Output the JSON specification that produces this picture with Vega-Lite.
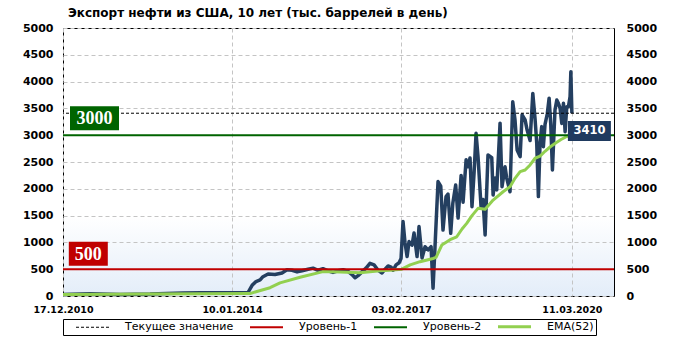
{
  "$schema": "https://vega.github.io/schema/vega-lite/v6.json",
  "width": 551,
  "height": 268,
  "autosize": {"type": "none"},
  "padding": {"left": 63, "top": 28, "right": 67, "bottom": 45},
  "background": "white",
  "title": {
    "text": "Экспорт нефти из США, 10 лет (тыс. баррелей в день)",
    "anchor": "start",
    "frame": "group",
    "font": "DejaVu Sans",
    "fontSize": 12,
    "fontWeight": "bold",
    "color": "black",
    "offset": 2,
    "dx": 5
  },
  "config": {
    "view": {
      "stroke": "black",
      "strokeWidth": 1,
      "fill": {
        "gradient": "linear",
        "x1": 0, "y1": 0, "x2": 0, "y2": 1,
        "stops": [
          {"offset": 0, "color": "#ffffff"},
          {"offset": 0.7, "color": "#ffffff"},
          {"offset": 1, "color": "#e3edf9"}
        ]
      }
    },
    "axis": {
      "labelFont": "DejaVu Sans",
      "labelFontWeight": "bold",
      "labelColor": "black",
      "ticks": false,
      "domain": false,
      "gridColor": "#c4c4c4",
      "gridDash": [4, 3],
      "gridWidth": 1,
      "title": null
    },
    "legend": {
      "orient": "none",
      "legendX": 0,
      "legendY": 291,
      "direction": "horizontal",
      "strokeColor": "black",
      "padding": 2,
      "symbolType": "stroke",
      "symbolSize": 1089,
      "symbolStrokeWidth": 2,
      "symbolOffset": 22,
      "labelFont": "DejaVu Sans",
      "labelFontSize": 11,
      "labelColor": "black",
      "labelOffset": 27,
      "columnPadding": 5,
      "title": null
    }
  },
  "datasets": {
    "export": [
      {"date": "2010-12-17", "value": 30},
      {"date": "2011-06-14", "value": 40},
      {"date": "2011-12-30", "value": 30},
      {"date": "2012-07-16", "value": 35},
      {"date": "2013-02-19", "value": 55},
      {"date": "2013-06-12", "value": 60},
      {"date": "2013-12-28", "value": 60},
      {"date": "2014-04-26", "value": 65},
      {"date": "2014-05-23", "value": 200},
      {"date": "2014-06-18", "value": 270},
      {"date": "2014-07-15", "value": 300},
      {"date": "2014-08-03", "value": 360},
      {"date": "2014-09-06", "value": 410},
      {"date": "2014-10-22", "value": 400},
      {"date": "2014-12-07", "value": 430},
      {"date": "2015-01-09", "value": 490},
      {"date": "2015-02-12", "value": 480},
      {"date": "2015-03-17", "value": 450},
      {"date": "2015-04-19", "value": 470},
      {"date": "2015-05-29", "value": 500},
      {"date": "2015-07-01", "value": 520},
      {"date": "2015-08-03", "value": 480},
      {"date": "2015-09-05", "value": 510},
      {"date": "2015-10-08", "value": 470},
      {"date": "2015-11-10", "value": 440},
      {"date": "2015-12-13", "value": 470},
      {"date": "2016-01-16", "value": 490},
      {"date": "2016-02-18", "value": 460},
      {"date": "2016-03-15", "value": 400},
      {"date": "2016-04-04", "value": 340},
      {"date": "2016-04-24", "value": 380},
      {"date": "2016-05-20", "value": 450},
      {"date": "2016-06-16", "value": 520},
      {"date": "2016-07-12", "value": 610},
      {"date": "2016-08-08", "value": 580},
      {"date": "2016-09-04", "value": 480},
      {"date": "2016-09-30", "value": 430},
      {"date": "2016-10-20", "value": 500},
      {"date": "2016-11-09", "value": 560},
      {"date": "2016-11-29", "value": 540},
      {"date": "2016-12-12", "value": 480},
      {"date": "2017-01-01", "value": 580},
      {"date": "2017-01-21", "value": 620},
      {"date": "2017-02-03", "value": 700},
      {"date": "2017-02-16", "value": 1390},
      {"date": "2017-03-01", "value": 1000},
      {"date": "2017-03-15", "value": 735},
      {"date": "2017-03-28", "value": 1015},
      {"date": "2017-04-17", "value": 950},
      {"date": "2017-04-30", "value": 1175},
      {"date": "2017-05-20", "value": 735},
      {"date": "2017-06-02", "value": 1295},
      {"date": "2017-06-22", "value": 710},
      {"date": "2017-07-12", "value": 920},
      {"date": "2017-08-01", "value": 860},
      {"date": "2017-08-21", "value": 920},
      {"date": "2017-09-03", "value": 145},
      {"date": "2017-09-16", "value": 920},
      {"date": "2017-10-06", "value": 2135},
      {"date": "2017-10-24", "value": 2050},
      {"date": "2017-11-08", "value": 1230},
      {"date": "2017-11-28", "value": 1855},
      {"date": "2017-12-11", "value": 1900},
      {"date": "2017-12-29", "value": 1170},
      {"date": "2018-01-12", "value": 1730},
      {"date": "2018-01-31", "value": 2070},
      {"date": "2018-02-16", "value": 1455},
      {"date": "2018-03-08", "value": 2250},
      {"date": "2018-03-21", "value": 1750},
      {"date": "2018-04-10", "value": 2540},
      {"date": "2018-04-23", "value": 2410},
      {"date": "2018-05-06", "value": 2575},
      {"date": "2018-05-19", "value": 1665},
      {"date": "2018-06-02", "value": 2300},
      {"date": "2018-06-15", "value": 3035},
      {"date": "2018-06-28", "value": 2600},
      {"date": "2018-07-18", "value": 1665},
      {"date": "2018-07-31", "value": 1800},
      {"date": "2018-08-14", "value": 1140},
      {"date": "2018-09-02", "value": 2630},
      {"date": "2018-09-27", "value": 2580},
      {"date": "2018-10-06", "value": 1885},
      {"date": "2018-10-19", "value": 2200},
      {"date": "2018-10-30", "value": 1980},
      {"date": "2018-11-21", "value": 3225},
      {"date": "2018-12-04", "value": 2040},
      {"date": "2018-12-24", "value": 2410},
      {"date": "2019-01-04", "value": 2200},
      {"date": "2019-01-26", "value": 1945},
      {"date": "2019-02-13", "value": 3625},
      {"date": "2019-02-28", "value": 3285},
      {"date": "2019-03-14", "value": 2725},
      {"date": "2019-04-03", "value": 2600},
      {"date": "2019-04-16", "value": 3380},
      {"date": "2019-05-06", "value": 3285},
      {"date": "2019-05-19", "value": 3100},
      {"date": "2019-06-08", "value": 2900},
      {"date": "2019-06-26", "value": 3780},
      {"date": "2019-07-11", "value": 3300},
      {"date": "2019-07-22", "value": 2850},
      {"date": "2019-08-02", "value": 1855},
      {"date": "2019-08-13", "value": 2850},
      {"date": "2019-08-24", "value": 3160},
      {"date": "2019-09-04", "value": 2785},
      {"date": "2019-09-15", "value": 3200},
      {"date": "2019-09-30", "value": 3400},
      {"date": "2019-10-12", "value": 3690},
      {"date": "2019-10-23", "value": 3200},
      {"date": "2019-11-03", "value": 2350},
      {"date": "2019-11-20", "value": 3470},
      {"date": "2019-12-02", "value": 3655},
      {"date": "2019-12-12", "value": 3600},
      {"date": "2019-12-24", "value": 3500},
      {"date": "2020-01-04", "value": 3220},
      {"date": "2020-01-15", "value": 3595},
      {"date": "2020-01-26", "value": 3065},
      {"date": "2020-02-06", "value": 3530},
      {"date": "2020-02-17", "value": 3530},
      {"date": "2020-02-28", "value": 3720},
      {"date": "2020-03-04", "value": 4185},
      {"date": "2020-03-11", "value": 3410}
    ],
    "ema": [
      {"date": "2010-12-17", "value": 30},
      {"date": "2012-07-16", "value": 35},
      {"date": "2013-06-12", "value": 40},
      {"date": "2014-05-09", "value": 45},
      {"date": "2014-06-18", "value": 80},
      {"date": "2014-09-19", "value": 155},
      {"date": "2014-11-24", "value": 245},
      {"date": "2015-04-06", "value": 350},
      {"date": "2015-09-05", "value": 455},
      {"date": "2015-12-27", "value": 450},
      {"date": "2016-05-07", "value": 435},
      {"date": "2016-09-17", "value": 470},
      {"date": "2016-11-22", "value": 480},
      {"date": "2017-02-08", "value": 500},
      {"date": "2017-04-04", "value": 580},
      {"date": "2017-06-09", "value": 640},
      {"date": "2017-09-03", "value": 700},
      {"date": "2017-09-23", "value": 720},
      {"date": "2017-10-31", "value": 950},
      {"date": "2017-12-25", "value": 1050},
      {"date": "2018-02-07", "value": 1105},
      {"date": "2018-03-14", "value": 1250},
      {"date": "2018-04-14", "value": 1355},
      {"date": "2018-05-19", "value": 1500},
      {"date": "2018-06-28", "value": 1635},
      {"date": "2018-08-14", "value": 1620},
      {"date": "2018-10-06", "value": 1790},
      {"date": "2018-12-11", "value": 1945},
      {"date": "2019-01-26", "value": 2040},
      {"date": "2019-02-28", "value": 2195},
      {"date": "2019-04-03", "value": 2320},
      {"date": "2019-05-06", "value": 2350},
      {"date": "2019-06-08", "value": 2445},
      {"date": "2019-07-11", "value": 2570},
      {"date": "2019-08-13", "value": 2610},
      {"date": "2019-09-15", "value": 2700},
      {"date": "2019-10-18", "value": 2780},
      {"date": "2019-11-27", "value": 2860},
      {"date": "2019-12-30", "value": 2920},
      {"date": "2020-02-06", "value": 2975},
      {"date": "2020-03-11", "value": 3010}
    ],
    "levels": [
      {"name": "Текущее значение", "value": 3410},
      {"name": "Уровень-1", "value": 500},
      {"name": "Уровень-2", "value": 3000}
    ]
  },
  "resolve": {"axis": {"y": "independent"}},
  "layer": [
    {
      "data": {"name": "export"},
      "mark": {"type": "line", "color": "#243f60", "strokeWidth": 3.5, "strokeJoin": "round"},
      "encoding": {
        "x": {
          "field": "date",
          "type": "temporal",
          "scale": {"domain": [{"year": 2010, "month": 12, "date": 17}, {"year": 2020, "month": 12, "date": 15}]},
          "axis": {
            "values": [
              {"year": 2010, "month": 12, "date": 17},
              {"year": 2014, "month": 1, "date": 10},
              {"year": 2017, "month": 2, "date": 3},
              {"year": 2020, "month": 3, "date": 11}
            ],
            "format": "%d.%m.%Y",
            "labelFontSize": 9.5,
            "labelPadding": 8,
            "labelFlush": false,
            "labelOverlap": false,
            "grid": true
          }
        },
        "y": {
          "field": "value",
          "type": "quantitative",
          "scale": {"domain": [0, 5000], "nice": false},
          "axis": {
            "orient": "left",
            "values": [0, 500, 1000, 1500, 2000, 2500, 3000, 3500, 4000, 4500, 5000],
            "format": "d",
            "labelFontSize": 11,
            "labelPadding": 10,
            "grid": true
          }
        }
      }
    },
    {
      "data": {"name": "ema"},
      "mark": {"type": "line", "strokeWidth": 3, "strokeJoin": "round"},
      "encoding": {
        "x": {"field": "date", "type": "temporal"},
        "y": {
          "field": "value",
          "type": "quantitative",
          "axis": {
            "orient": "right",
            "values": [0, 500, 1000, 1500, 2000, 2500, 3000, 3500, 4000, 4500, 5000],
            "format": "d",
            "labelFontSize": 11,
            "labelPadding": 12,
            "grid": false
          }
        },
        "color": {
          "datum": "EMA(52)",
          "scale": {
            "domain": ["Текущее значение", "Уровень-1", "Уровень-2", "EMA(52)"],
            "range": ["black", "#c00000", "#006400", "#92d050"]
          },
          "legend": {
            "encode": {
              "symbols": {
                "update": {
                  "strokeDash": {"signal": "datum.label === 'Текущее значение' ? [3, 2] : [1, 0]"},
                  "strokeWidth": {"signal": "datum.label === 'EMA(52)' ? 3 : (datum.label === 'Текущее значение' ? 1 : 2)"}
                }
              }
            }
          }
        }
      }
    },
    {
      "data": {"name": "levels"},
      "mark": {"type": "rule"},
      "encoding": {
        "y": {"field": "value", "type": "quantitative", "axis": null},
        "color": {"field": "name", "type": "nominal"},
        "strokeDash": {"condition": {"test": "datum.name === 'Текущее значение'", "value": [3, 2]}, "value": [1, 0]},
        "strokeWidth": {"condition": {"test": "datum.name === 'Текущее значение'", "value": 1}, "value": 2}
      }
    },
    {
      "data": {"name": "levels"},
      "transform": [{"filter": "datum.name === 'Уровень-2'"}],
      "mark": {"type": "point", "filled": true, "opacity": 1, "strokeWidth": 0, "shape": "M-1,-0.49H1V0.49H-1Z", "size": 2401, "color": "#006400", "xOffset": 31.5, "yOffset": -17},
      "encoding": {
        "x": {"datum": {"year": 2010, "month": 12, "date": 17}, "type": "temporal"},
        "y": {"field": "value", "type": "quantitative", "axis": null}
      }
    },
    {
      "data": {"name": "levels"},
      "transform": [{"filter": "datum.name === 'Уровень-2'"}],
      "mark": {"type": "text", "font": "Liberation Serif", "fontWeight": "bold", "fontSize": 18, "color": "white", "align": "center", "baseline": "middle", "xOffset": 31.5, "yOffset": -16},
      "encoding": {
        "x": {"datum": {"year": 2010, "month": 12, "date": 17}, "type": "temporal"},
        "y": {"field": "value", "type": "quantitative", "axis": null},
        "text": {"field": "value", "type": "quantitative", "format": "d"}
      }
    },
    {
      "data": {"name": "levels"},
      "transform": [{"filter": "datum.name === 'Уровень-1'"}],
      "mark": {"type": "point", "filled": true, "opacity": 1, "strokeWidth": 0, "shape": "M-1,-0.615H1V0.615H-1Z", "size": 1521, "color": "#c00000", "xOffset": 25.3, "yOffset": -15.5},
      "encoding": {
        "x": {"datum": {"year": 2010, "month": 12, "date": 17}, "type": "temporal"},
        "y": {"field": "value", "type": "quantitative", "axis": null}
      }
    },
    {
      "data": {"name": "levels"},
      "transform": [{"filter": "datum.name === 'Уровень-1'"}],
      "mark": {"type": "text", "font": "Liberation Serif", "fontWeight": "bold", "fontSize": 18, "color": "white", "align": "center", "baseline": "middle", "xOffset": 25.3, "yOffset": -14.5},
      "encoding": {
        "x": {"datum": {"year": 2010, "month": 12, "date": 17}, "type": "temporal"},
        "y": {"field": "value", "type": "quantitative", "axis": null},
        "text": {"field": "value", "type": "quantitative", "format": "d"}
      }
    },
    {
      "data": {"name": "levels"},
      "transform": [{"filter": "datum.name === 'Текущее значение'"}],
      "mark": {"type": "point", "filled": true, "opacity": 1, "strokeWidth": 0, "shape": "M-1,-0.465H1V0.465H-1Z", "size": 1849, "color": "#1f3a5f", "xOffset": 17.5, "yOffset": 17.7},
      "encoding": {
        "x": {"datum": {"year": 2020, "month": 3, "date": 11}, "type": "temporal"},
        "y": {"field": "value", "type": "quantitative", "axis": null}
      }
    },
    {
      "data": {"name": "levels"},
      "transform": [{"filter": "datum.name === 'Текущее значение'"}],
      "mark": {"type": "text", "font": "DejaVu Sans", "fontWeight": "bold", "fontSize": 11.5, "color": "white", "align": "center", "baseline": "middle", "xOffset": 17.5, "yOffset": 18},
      "encoding": {
        "x": {"datum": {"year": 2020, "month": 3, "date": 11}, "type": "temporal"},
        "y": {"field": "value", "type": "quantitative", "axis": null},
        "text": {"field": "value", "type": "quantitative", "format": "d"}
      }
    }
  ]
}
